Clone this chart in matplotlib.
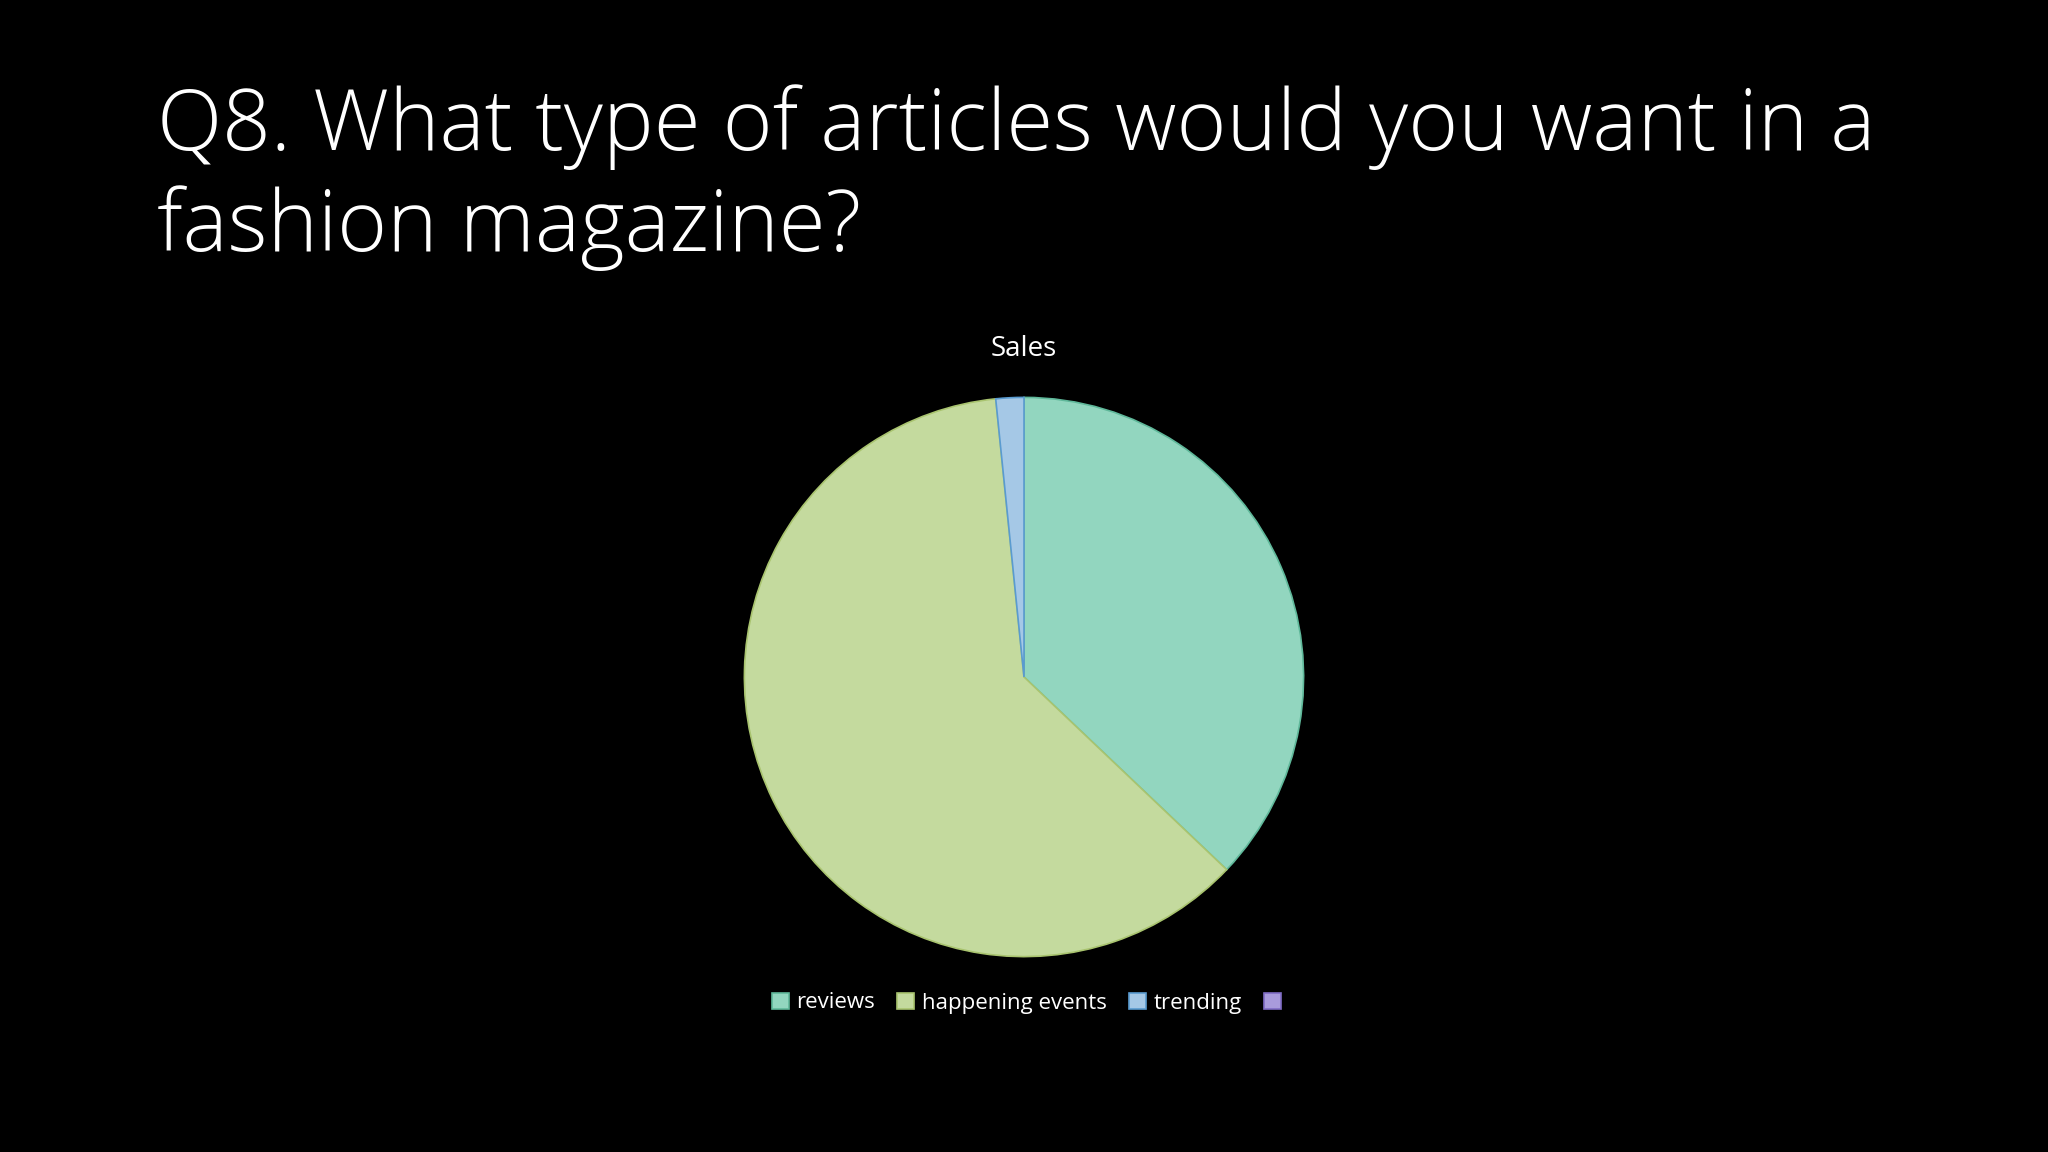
import matplotlib
matplotlib.use('Agg')
import matplotlib.pyplot as plt
from matplotlib.patches import Patch

labels = ['reviews', 'happening events', 'trending', '']
values = [23, 38, 1, 0]
colors = ['#92d6bf', '#c4da9e', '#a5c8e6', '#a99bdc']
edges = ['#5fb89a', '#a9c46f', '#5a9bd0', '#7f6cc4']

plt.rcParams['font.family'] = ['Open Sans', 'DejaVu Sans']

fig = plt.figure(figsize=(20.48, 11.52), dpi=100, facecolor='black')

fig.text(157 / 2048, 1 - 150 / 1152, 'Q8. What type of articles would you want in a',
         color='white', fontsize=61.3, fontweight='light', ha='left', va='baseline')
fig.text(157 / 2048, 1 - 251 / 1152, 'fashion magazine?',
         color='white', fontsize=61.3, fontweight='light', ha='left', va='baseline')
fig.text(0.5, 1 - 349 / 1152, 'Sales', color='white', fontsize=20, ha='center', va='center')

r = 281
cx, cy = 1024, 1152 - 677
ax = fig.add_axes([(cx - r) / 2048, (cy - r) / 1152, 2 * r / 2048, 2 * r / 1152])
ax.set_facecolor('black')
wedges, _ = ax.pie(values[:3], colors=colors[:3], startangle=90, counterclock=False,
                   radius=1.0, wedgeprops=dict(linewidth=1.2))
for w, e in zip(wedges, edges):
    w.set_edgecolor(e)
ax.set_xlim(-1.005, 1.005)
ax.set_ylim(-1.005, 1.005)
ax.set_aspect('equal')
ax.axis('off')

handles = [Patch(facecolor=c, edgecolor=e, linewidth=1.2) for c, e in zip(colors, edges)]
leg = fig.legend(handles, labels, loc='center', bbox_to_anchor=(0.503, 1 - 1003 / 1152), ncol=4,
                 frameon=False, fontsize=16, labelcolor='white', handlelength=0.75,
                 handleheight=0.75, handletextpad=0.35, columnspacing=1.0)

fig.savefig('out.png', facecolor='black')
